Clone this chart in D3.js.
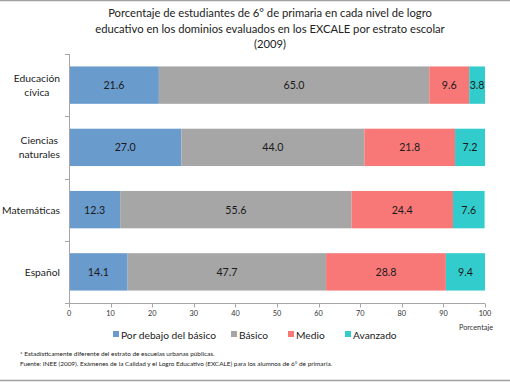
<!DOCTYPE html>
<html><head><meta charset="utf-8">
<script src="https://cdn.jsdelivr.net/npm/d3@7"></script>
<style>body{margin:0;background:#fff}svg{display:block}text{font-family:Lato,"Open Sans",sans-serif}</style>
</head><body><svg id="c" width="510" height="382"></svg>
<script>
const categories = ["Educación cívica", "Ciencias naturales", "Matemáticas", "Español"];
const categoryLines = [["Educación","cívica"],["Ciencias","naturales"],["Matemáticas"],["Español"]];
const seriesNames = ["Por debajo del básico", "Básico", "Medio", "Avanzado"];
const porDebajo = [21.6, 27.0, 12.3, 14.1];
const basico = [65.0, 44.0, 55.6, 47.7];
const medio = [9.6, 21.8, 24.4, 28.8];
const avanzado = [3.8, 7.2, 7.6, 9.4];
const xTicks = [0,10,20,30,40,50,60,70,80,90,100];
const colors = ["#6A9BCD", "#A6A6A6", "#F87878", "#33CCCC"];
const titleLines = ["Porcentaje de estudiantes de 6° de primaria en cada nivel de logro",
  "educativo en los dominios evaluados en los EXCALE por estrato escolar", "(2009)"];
const notes = ["* Estadísticamente diferente del estrato de escuelas urbanas públicas.",
  "Fuente: INEE (2009). Exámenes de la Calidad y el Logro Educativo (EXCALE) para los alumnos de 6° de primaria."];

const svg = d3.select("#c");
svg.append("rect").attr("width",510).attr("height",382).attr("fill","#fff");
svg.append("line").attr("x1",0).attr("x2",510).attr("y1",0.5).attr("y2",0.5).attr("stroke","#A0A0A0").attr("stroke-width",1.5);
svg.append("line").attr("x1",0).attr("x2",510).attr("y1",380.5).attr("y2",380.5).attr("stroke","#A0A0A0").attr("stroke-width",1.5);

// font size giving a sample string a target width
function sizeFor(sample, target){
  const t = svg.append("text").attr("font-size",10).text(sample);
  const w = t.node().getComputedTextLength(); t.remove();
  return 10*target/w;
}
const fsTitle = sizeFor(titleLines[1], 350);
const fsCat = sizeFor("Matemáticas", 58);
const fsData = sizeFor("21.6", 21);
const fsLeg = sizeFor(seriesNames[0], 95);
const fsTick = sizeFor("Porcentaje", 34);
const fsNote = sizeFor(notes[1], 313);

const x = d3.scaleLinear().domain([0,100]).range([69,485]);
const y = d3.scaleBand().domain(categories).range([54,303]).paddingInner(0.4).paddingOuter(0.2);
const yb = d3.scaleBand().domain(categories).range([54,303]);

// title
svg.append("g").selectAll("text").data(titleLines).join("text")
  .attr("x",270).attr("y",(d,i)=>17+i*15.5).attr("text-anchor","middle")
  .attr("font-size",fsTitle).attr("fill","#222").text(d=>d);

const series = [porDebajo, basico, medio, avanzado];
const rows = categories.map((c,i)=>{ const o={cat:c}; seriesNames.forEach((s,j)=>o[s]=series[j][i]); return o; });
const stack = d3.stack().keys(seriesNames)(rows);

const g = svg.append("g");
stack.forEach((layer,j)=>{
  g.selectAll(null).data(layer).join("rect")
    .attr("x",d=>x(d[0])).attr("width",d=>x(d[1])-x(d[0]))
    .attr("y",d=>y(d.data.cat)).attr("height",y.bandwidth())
    .attr("fill",colors[j]);
  g.selectAll(null).data(layer).join("text")
    .attr("x",d=>(x(d[0])+x(d[1]))/2).attr("y",d=>y(d.data.cat)+y.bandwidth()/2+4)
    .attr("text-anchor","middle").attr("font-size",fsData).attr("fill","#1a1a1a")
    .text(d=>(d[1]-d[0]).toFixed(1));
});

// axes
const ax = svg.append("g").attr("stroke","#A6A6A6").attr("fill","none");
ax.append("line").attr("x1",x(0)).attr("x2",x(100)).attr("y1",303.5).attr("y2",303.5);
ax.append("line").attr("x1",x(0)+0.5).attr("x2",x(0)+0.5).attr("y1",54).attr("y2",303.5);
xTicks.forEach(t=>ax.append("line").attr("x1",Math.round(x(t))+0.5).attr("x2",Math.round(x(t))+0.5).attr("y1",303.5).attr("y2",307.5));
const bounds = categories.map(c=>yb(c)).concat([303]);
bounds.forEach(b=>ax.append("line").attr("x1",x(0)-4).attr("x2",x(0)).attr("y1",Math.round(b)+0.5).attr("y2",Math.round(b)+0.5));

svg.append("g").selectAll("text").data(xTicks).join("text")
  .attr("x",d=>x(d)).attr("y",316).attr("text-anchor","middle")
  .attr("font-size",fsTick).attr("fill","#333").text(d=>d);

// category labels
categories.forEach((c,i)=>{
  const lines = categoryLines[i];
  const cy = y(c)+y.bandwidth()/2;
  const gg = svg.append("g");
  const ts = lines.map((l,k)=>gg.append("text").attr("font-size",fsCat).attr("fill","#222")
     .attr("y", cy + 4 + (k-(lines.length-1)/2)*14).text(l));
  const w = d3.max(ts, t=>t.node().getComputedTextLength());
  const cx = 60 - w/2;
  ts.forEach(t=>t.attr("x",cx).attr("text-anchor","middle"));
});

svg.append("text").attr("x",493).attr("y",330).attr("text-anchor","end").attr("font-size",fsTick).attr("fill","#333").text("Porcentaje");

// legend
const legX = [113,231,288,345];
seriesNames.forEach((s,j)=>{
  svg.append("rect").attr("x",legX[j]).attr("y",331).attr("width",6).attr("height",6).attr("fill",colors[j]);
  svg.append("text").attr("x",legX[j]+8).attr("y",338.5).attr("font-size",fsLeg).attr("fill","#222").text(s);
});

svg.append("g").selectAll("text").data(notes).join("text")
  .attr("x",20).attr("y",(d,i)=>356+i*9.5).attr("font-size",fsNote).attr("fill","#222").text(d=>d);
</script></body></html>
